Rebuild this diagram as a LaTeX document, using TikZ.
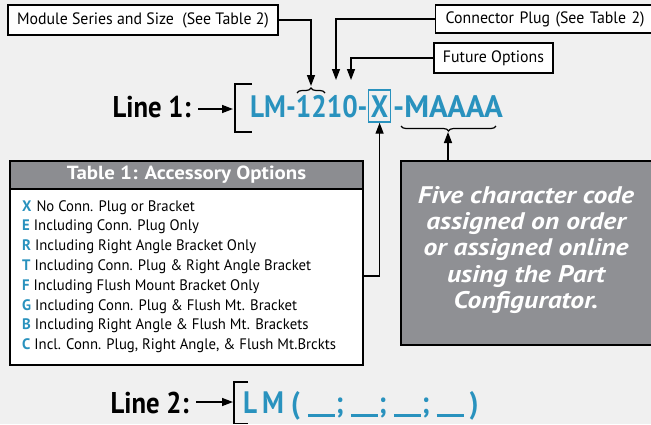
\documentclass[tikz,border=0pt]{standalone}
\usepackage{fontspec}
\setmainfont{PT Sans}
\newfontfamily\boxfont[FakeStretch=0.96]{PT Sans}
\newfontfamily\rowfont[FakeStretch=0.97]{PT Sans}
\newfontfamily\hdrfont[FakeStretch=1.1]{PT Sans}
\newfontfamily\grayfont[FakeStretch=1.15]{PT Sans}
\newfontfamily\codefont[FakeStretch=0.88]{PT Sans}
\newfontfamily\codewide[FakeStretch=1.0]{PT Sans}
\newfontfamily\lblfont[FakeStretch=0.89]{PT Sans}
\usetikzlibrary{arrows.meta,decorations.pathreplacing,calc}
\definecolor{pnblue}{RGB}{41,146,190}
\definecolor{bggray}{RGB}{240,240,240}
\definecolor{boxgray}{RGB}{143,144,148}
\definecolor{hdrgray}{RGB}{140,141,145}
\newcommand{\blank}{\rule[-3.5pt]{27pt}{2.6pt}}
\tikzset{
  lbox/.style={draw=black, line width=1.4pt, fill=white, inner sep=0pt, font=\boxfont\fontsize{16.5}{18}\selectfont},
  arr/.style={line width=1.4pt, -{Triangle[length=11pt,width=8pt]}},
  codetxt/.style={font=\codefont\fontsize{31}{34}\selectfont\bfseries, text=pnblue, inner sep=0pt},
  linelbl/.style={font=\lblfont\fontsize{30}{33}\selectfont\bfseries, inner sep=0pt},
  bracketline/.style={line width=1.4pt},
  bracemark/.style={line width=1.2pt, decorate, decoration={brace, amplitude=5pt}},
}
\begin{document}
\begin{tikzpicture}[x=1pt,y=-1pt]
\clip (0,0) rectangle (651,424);
\fill[bggray] (0,0) rectangle (651,424);

% top label boxes
\node[lbox, minimum width=270pt, minimum height=30pt] (mod) at (143,20) {Module Series and Size\ \ (See Table 2)};
\node[lbox, anchor=west, minimum height=28pt, text width=200pt, inner xsep=10pt, align=left] (conn) at (435,19) {Connector Plug (See Table 2)};
\node[lbox, minimum width=119pt, minimum height=30pt] (fut) at (493.5,58) {Future Options};

% line 1
\node[linelbl, anchor=base east] (l1) at (191,117) {Line 1:};
\coordinate (b1) at (233,109);
\coordinate (a1) at ($(l1.east |- b1)+(7,0)$);
\draw[arr] (a1) -- (b1);
\draw[bracketline] (252,84) -| (235,132) -- (252,132);
\node[codetxt, anchor=base west] (c1a) at (250,117) {LM-1210-};
\node[codetxt, draw=pnblue, line width=1.4pt, anchor=base west, inner xsep=2.5pt, inner ysep=5pt, text height=22pt, text depth=0pt] (xb) at (c1a.base east) {X};
\node[codetxt, font=\codewide\fontsize{31}{34}\selectfont\bfseries, anchor=base west] (c1b) at ([xshift=1.5pt]xb.base east) {-MAAAA};

% braces
\draw[bracemark] (297,93) -- (325,93);
\draw[bracemark] (496,126) -- (401,126);

% connectors from top boxes
\coordinate (t1) at (311,86);
\coordinate (t2) at (336,80);
\coordinate (t3) at (351,80);
\draw[arr] (mod.east) -| (t1);
\draw[arr] (conn.west) -| (t2);
\draw[arr] (fut.west) -| (t3);

% table
\node[draw=black, line width=1.6pt, fill=white, minimum width=353pt, minimum height=204pt, inner sep=0pt] (tbl) at (186.5,263) {};
\node[draw=black, line width=1.6pt, fill=hdrgray, minimum width=353pt, minimum height=28pt, anchor=north, inner sep=0pt, text=white, font=\hdrfont\fontsize{19}{22}\selectfont\bfseries] (thdr) at (tbl.north) {Table 1: Accessory Options};
\node[anchor=north west, align=left, inner sep=0pt, font=\rowfont\fontsize{15.2}{19.8}\selectfont] (rows) at (22,200) {%
\textcolor{pnblue}{\textbf{X}}\hspace{5pt}No Conn. Plug or Bracket\\
\textcolor{pnblue}{\textbf{E}}\hspace{4pt}Including Conn. Plug Only\\
\textcolor{pnblue}{\textbf{R}}\hspace{4pt}Including Right Angle Bracket Only\\
\textcolor{pnblue}{\textbf{T}}\hspace{4pt}Including Conn. Plug \& Right Angle Bracket\\
\textcolor{pnblue}{\textbf{F}}\hspace{4pt}Including Flush Mount Bracket Only\\
\textcolor{pnblue}{\textbf{G}}\hspace{4pt}Including Conn. Plug \& Flush Mt. Bracket\\
\textcolor{pnblue}{\textbf{B}}\hspace{4pt}Including Right Angle \& Flush Mt. Brackets\\
\textcolor{pnblue}{\textbf{C}}\hspace{4pt}Incl. Conn. Plug, Right Angle, \& Flush Mt.Brckts};

\coordinate (ty) at (0,276);
\draw[arr] (tbl.east |- ty) -| (xb.south);

% gray box
\node[draw=black, line width=1.6pt, fill=boxgray, minimum width=258pt, minimum height=184pt, anchor=north west, inner sep=0pt] (five) at (400,160) {};
\node[text=white, align=center, inner sep=0pt, font=\grayfont\fontsize{24}{26.3}\selectfont\bfseries\itshape] (fivetxt) at (526,250) {Five character code\\assigned on order\\or assigned online\\using the Part\\Configurator.};
\coordinate (bt) at (448,132);
\draw[arr] (five.north -| bt) -- (bt);

% line 2
\node[linelbl, anchor=base east] (l2) at (189,413) {Line 2:};
\coordinate (b2) at (233,402);
\coordinate (a2) at ($(l2.east |- b2)+(7,0)$);
\draw[arr] (a2) -- (b2);
\draw[bracketline] (248,382) -| (234,423.5) -- (248,423.5);
\node[codetxt, anchor=base west] (c2) at (243,413) {L\hspace{5pt}M\hspace{7pt}(\hspace{8pt}\blank\hspace{1pt};\hspace{7pt}\blank\hspace{1pt};\hspace{7pt}\blank\hspace{1pt};\hspace{7pt}\blank\hspace{6pt})};
\end{tikzpicture}
\end{document}
